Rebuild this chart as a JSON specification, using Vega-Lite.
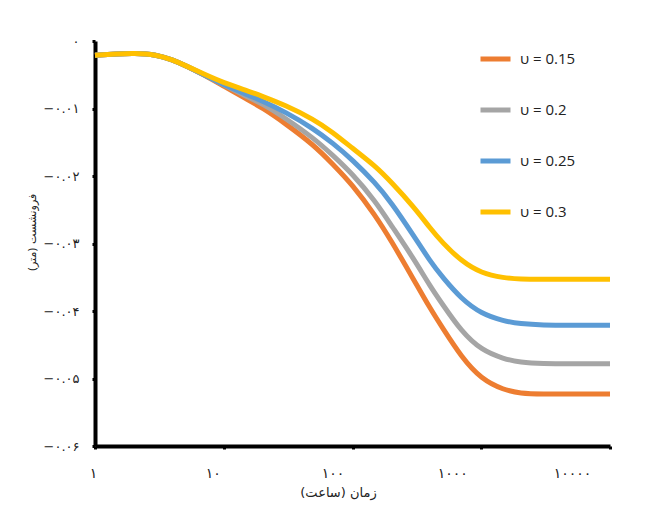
{
  "$schema": "https://vega.github.io/schema/vega-lite/v6.json",
  "width": 515,
  "height": 405,
  "autosize": "none",
  "padding": {"left": 95, "top": 41, "right": 36, "bottom": 63},
  "background": "white",
  "config": {
    "view": {"stroke": null},
    "font": "DejaVu Sans"
  },
  "data": {
    "values": [
      {"t": 1, "s": -0.0021, "nu": "0.15"}, {"t": 1, "s": -0.0021, "nu": "0.2"}, {"t": 1, "s": -0.0021, "nu": "0.25"}, {"t": 1, "s": -0.0021, "nu": "0.3"},
      {"t": 1.5, "s": -0.0019, "nu": "0.15"}, {"t": 1.5, "s": -0.0019, "nu": "0.2"}, {"t": 1.5, "s": -0.0019, "nu": "0.25"}, {"t": 1.5, "s": -0.0019, "nu": "0.3"},
      {"t": 2, "s": -0.0018, "nu": "0.15"}, {"t": 2, "s": -0.0018, "nu": "0.2"}, {"t": 2, "s": -0.0018, "nu": "0.25"}, {"t": 2, "s": -0.0018, "nu": "0.3"},
      {"t": 3, "s": -0.0020, "nu": "0.15"}, {"t": 3, "s": -0.0020, "nu": "0.2"}, {"t": 3, "s": -0.0020, "nu": "0.25"}, {"t": 3, "s": -0.0020, "nu": "0.3"},
      {"t": 4, "s": -0.0028, "nu": "0.15"}, {"t": 4, "s": -0.0028, "nu": "0.2"}, {"t": 4, "s": -0.0028, "nu": "0.25"}, {"t": 4, "s": -0.0028, "nu": "0.3"},
      {"t": 5, "s": -0.0036, "nu": "0.15"}, {"t": 5, "s": -0.0036, "nu": "0.2"}, {"t": 5, "s": -0.0036, "nu": "0.25"}, {"t": 5, "s": -0.0036, "nu": "0.3"},
      {"t": 7, "s": -0.0050, "nu": "0.15"}, {"t": 7, "s": -0.0050, "nu": "0.2"}, {"t": 7, "s": -0.0050, "nu": "0.25"}, {"t": 7, "s": -0.0049, "nu": "0.3"},
      {"t": 10, "s": -0.0067, "nu": "0.15"}, {"t": 10, "s": -0.0065, "nu": "0.2"}, {"t": 10, "s": -0.0065, "nu": "0.25"}, {"t": 10, "s": -0.0062, "nu": "0.3"},
      {"t": 15, "s": -0.0086, "nu": "0.15"}, {"t": 15, "s": -0.0082, "nu": "0.2"}, {"t": 15, "s": -0.0079, "nu": "0.25"}, {"t": 15, "s": -0.0073, "nu": "0.3"},
      {"t": 20, "s": -0.0099, "nu": "0.15"}, {"t": 20, "s": -0.0093, "nu": "0.2"}, {"t": 20, "s": -0.0089, "nu": "0.25"}, {"t": 20, "s": -0.0082, "nu": "0.3"},
      {"t": 30, "s": -0.0122, "nu": "0.15"}, {"t": 30, "s": -0.0114, "nu": "0.2"}, {"t": 30, "s": -0.0105, "nu": "0.25"}, {"t": 30, "s": -0.0095, "nu": "0.3"},
      {"t": 50, "s": -0.0154, "nu": "0.15"}, {"t": 50, "s": -0.0144, "nu": "0.2"}, {"t": 50, "s": -0.0130, "nu": "0.25"}, {"t": 50, "s": -0.0116, "nu": "0.3"},
      {"t": 70, "s": -0.0182, "nu": "0.15"}, {"t": 70, "s": -0.0169, "nu": "0.2"}, {"t": 70, "s": -0.0151, "nu": "0.25"}, {"t": 70, "s": -0.0135, "nu": "0.3"},
      {"t": 100, "s": -0.0213, "nu": "0.15"}, {"t": 100, "s": -0.0197, "nu": "0.2"}, {"t": 100, "s": -0.0176, "nu": "0.25"}, {"t": 100, "s": -0.0159, "nu": "0.3"},
      {"t": 150, "s": -0.0258, "nu": "0.15"}, {"t": 150, "s": -0.0237, "nu": "0.2"}, {"t": 150, "s": -0.0210, "nu": "0.25"}, {"t": 150, "s": -0.0185, "nu": "0.3"},
      {"t": 200, "s": -0.0296, "nu": "0.15"}, {"t": 200, "s": -0.0273, "nu": "0.2"}, {"t": 200, "s": -0.0239, "nu": "0.25"}, {"t": 200, "s": -0.0209, "nu": "0.3"},
      {"t": 300, "s": -0.0354, "nu": "0.15"}, {"t": 300, "s": -0.0323, "nu": "0.2"}, {"t": 300, "s": -0.0289, "nu": "0.25"}, {"t": 300, "s": -0.0246, "nu": "0.3"},
      {"t": 400, "s": -0.0396, "nu": "0.15"}, {"t": 400, "s": -0.0363, "nu": "0.2"}, {"t": 400, "s": -0.0326, "nu": "0.25"}, {"t": 400, "s": -0.0277, "nu": "0.3"},
      {"t": 500, "s": -0.0425, "nu": "0.15"}, {"t": 500, "s": -0.0390, "nu": "0.2"}, {"t": 500, "s": -0.0350, "nu": "0.25"}, {"t": 500, "s": -0.0299, "nu": "0.3"},
      {"t": 700, "s": -0.0468, "nu": "0.15"}, {"t": 700, "s": -0.0430, "nu": "0.2"}, {"t": 700, "s": -0.0382, "nu": "0.25"}, {"t": 700, "s": -0.0326, "nu": "0.3"},
      {"t": 1000, "s": -0.0501, "nu": "0.15"}, {"t": 1000, "s": -0.0458, "nu": "0.2"}, {"t": 1000, "s": -0.0404, "nu": "0.25"}, {"t": 1000, "s": -0.0344, "nu": "0.3"},
      {"t": 1500, "s": -0.0517, "nu": "0.15"}, {"t": 1500, "s": -0.0471, "nu": "0.2"}, {"t": 1500, "s": -0.0415, "nu": "0.25"}, {"t": 1500, "s": -0.0351, "nu": "0.3"},
      {"t": 2000, "s": -0.0522, "nu": "0.15"}, {"t": 2000, "s": -0.0476, "nu": "0.2"}, {"t": 2000, "s": -0.0419, "nu": "0.25"}, {"t": 2000, "s": -0.0353, "nu": "0.3"},
      {"t": 3000, "s": -0.0523, "nu": "0.15"}, {"t": 3000, "s": -0.0478, "nu": "0.2"}, {"t": 3000, "s": -0.0421, "nu": "0.25"}, {"t": 3000, "s": -0.0353, "nu": "0.3"},
      {"t": 5000, "s": -0.0523, "nu": "0.15"}, {"t": 5000, "s": -0.0478, "nu": "0.2"}, {"t": 5000, "s": -0.0421, "nu": "0.25"}, {"t": 5000, "s": -0.0353, "nu": "0.3"},
      {"t": 10000, "s": -0.0523, "nu": "0.15"}, {"t": 10000, "s": -0.0478, "nu": "0.2"}, {"t": 10000, "s": -0.0421, "nu": "0.25"}, {"t": 10000, "s": -0.0353, "nu": "0.3"}
    ]
  },
  "mark": {"type": "line", "strokeWidth": 5, "interpolate": "basis", "clip": false},
  "encoding": {
    "x": {
      "field": "t",
      "type": "quantitative",
      "scale": {"type": "log", "domain": [1, 10000], "nice": false},
      "axis": {
        "title": "زمان (ساعت)",
        "values": [1, 10, 100, 1000, 10000],
        "grid": false,
        "domainColor": "black",
        "domainWidth": 4,
        "tickColor": "black",
        "tickWidth": 3,
        "tickSize": 3,
        "labelPadding": 17,
        "labelFontSize": 14,
        "labelColor": "#222",
        "labelAlign": "center",
        "labelFont": "DejaVu Sans",
        "labelExpr": "replace(replace(format(datum.value, 'd'), regexp('0', 'g'), '۰'), '1', '۱')",
        "labelOffset": {"expr": "-2 - 9 * log(datum.value) / log(10)"},
        "titleFont": "DejaVu Sans",
        "titleFontSize": 13,
        "titleFontWeight": "normal",
        "titleColor": "#222",
        "titlePadding": 6,
        "titleX": 243
      }
    },
    "y": {
      "field": "s",
      "type": "quantitative",
      "scale": {"domain": [-0.06, 0], "nice": false, "zero": false},
      "axis": {
        "title": "فرونشست (متر)",
        "values": [0, -0.01, -0.02, -0.03, -0.04, -0.05, -0.06],
        "grid": false,
        "domainColor": "black",
        "domainWidth": 4,
        "tickColor": "black",
        "tickWidth": 3,
        "tickSize": 3,
        "labelPadding": 13,
        "labelFontSize": 13,
        "labelColor": "#222",
        "labelFont": "DejaVu Sans",
        "labelExpr": "datum.value == 0 ? '۰' : replace(replace(replace(replace(replace(replace(replace(format(datum.value, '.2f'), regexp('0', 'g'), '۰'), regexp('1', 'g'), '۱'), regexp('2', 'g'), '۲'), regexp('3', 'g'), '۳'), regexp('4', 'g'), '۴'), regexp('5', 'g'), '۵'), regexp('6', 'g'), '۶')",
        "titleFont": "DejaVu Sans",
        "titleFontSize": 11,
        "titleFontWeight": "normal",
        "titleColor": "#222",
        "titlePadding": 6,
        "titleY": 191
      }
    },
    "color": {
      "field": "nu",
      "type": "nominal",
      "scale": {
        "domain": ["0.15", "0.2", "0.25", "0.3"],
        "range": ["#ED7D31", "#A5A5A5", "#5B9BD5", "#FFC000"]
      },
      "legend": {
        "title": null,
        "orient": "none",
        "legendX": 383,
        "legendY": 8,
        "padding": 0,
        "symbolType": "stroke",
        "symbolSize": 900,
        "symbolStrokeWidth": 5,
        "labelOffset": 7,
        "labelFont": "Open Sans",
        "labelFontSize": 15,
        "labelColor": "#222",
        "labelExpr": "'υ = ' + datum.label",
        "clipHeight": 20,
        "rowPadding": 31
      }
    }
  }
}
